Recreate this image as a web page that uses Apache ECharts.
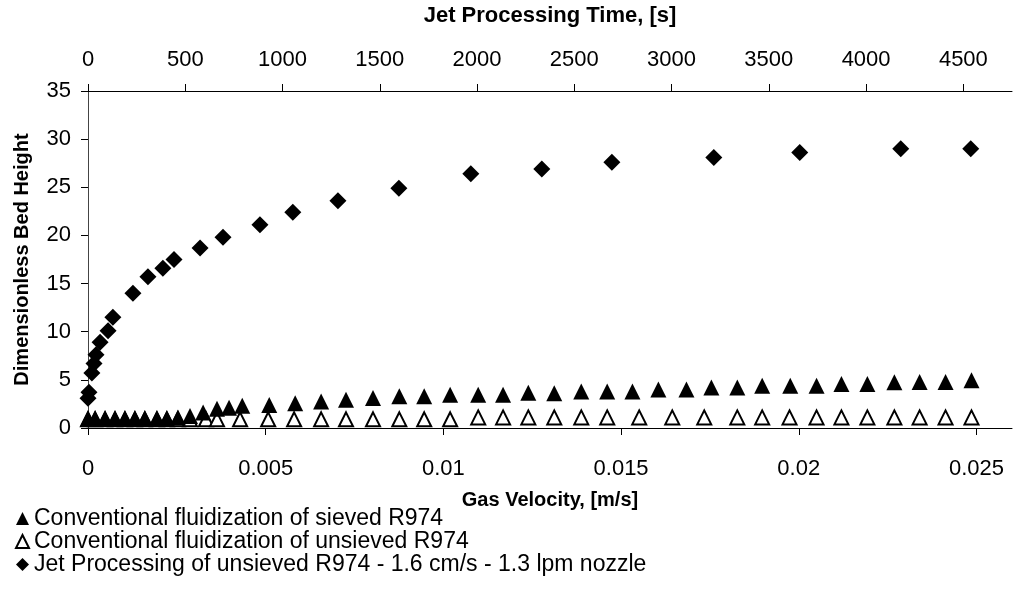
<!DOCTYPE html>
<html lang="en">
<head>
    <meta charset="UTF-8">
    <title>Bed Height</title>
    <script type="text/javascript" src="https://cdn.jsdelivr.net/npm/echarts@6/dist/echarts.min.js"></script>
    <style>
        body { margin: 0; background: #fff; }
    </style>
</head>
<body>
<div id="main" style="width: 1013px; height: 607px;"></div>

<script type="text/javascript">
    // conventional fluidization, sieved R974 (gas velocity m/s -> bed height)
    var sievedV = [0, 0.0002, 0.00048, 0.00076, 0.00104, 0.00132, 0.0016, 0.00194, 0.00222, 0.00253,
        0.00287, 0.00324, 0.00363, 0.00397, 0.00434, 0.0051, 0.00583, 0.00656, 0.00726, 0.00802,
        0.00876, 0.00946, 0.01019, 0.01098, 0.01168, 0.01239, 0.01312, 0.01388, 0.01461, 0.01532,
        0.01605, 0.01684, 0.01754, 0.01827, 0.01897, 0.01976, 0.0205, 0.0212, 0.02193, 0.02269,
        0.0234, 0.02413, 0.02486];
    var sievedH = [1.0, 1.0, 1.0, 1.0, 1.0, 1.0, 1.0, 1.0, 1.0, 1.1,
        1.25, 1.6, 2.0, 2.1, 2.3, 2.4, 2.58, 2.75, 2.94, 3.11,
        3.29, 3.29, 3.46, 3.46, 3.46, 3.66, 3.61, 3.8, 3.8, 3.8,
        4.0, 4.0, 4.2, 4.2, 4.39, 4.39, 4.39, 4.58, 4.58, 4.75,
        4.77, 4.77, 4.95];

    // conventional fluidization, unsieved R974
    var unsievedV = [0, 0.0002, 0.00048, 0.00076, 0.00104, 0.00132, 0.0016, 0.00194, 0.00222, 0.00253,
        0.00287, 0.00332, 0.00363, 0.00428, 0.00507, 0.0058, 0.00656, 0.00726, 0.00802, 0.00876,
        0.00946, 0.01019, 0.01098, 0.01168, 0.01239, 0.01312, 0.01388, 0.01461, 0.01551, 0.01644,
        0.01734, 0.01827, 0.01897, 0.01974, 0.0205, 0.0212, 0.02193, 0.02269, 0.0234, 0.02413,
        0.02486];
    var unsievedH = [0.9, 0.9, 0.9, 0.9, 0.9, 0.9, 0.9, 0.9, 0.9, 0.9,
        0.9, 0.9, 0.9, 0.9, 0.9, 0.9, 0.9, 0.9, 0.9, 0.9,
        0.9, 0.9, 1.1, 1.1, 1.1, 1.1, 1.1, 1.1, 1.1, 1.1,
        1.1, 1.1, 1.1, 1.1, 1.1, 1.1, 1.1, 1.1, 1.1, 1.1,
        1.1];

    // jet processing (time s -> bed height), top axis
    var jetT = [0, 5, 20, 31, 41, 62, 103, 128, 231, 308,
        385, 442, 576, 694, 884, 1053, 1285, 1598, 1968, 2333,
        2693, 3217, 3659, 4178, 4538];
    var jetH = [3.1, 3.7, 5.7, 6.7, 7.6, 8.9, 10.1, 11.5, 14.0, 15.7,
        16.6, 17.5, 18.7, 19.8, 21.1, 22.4, 23.6, 24.9, 26.4, 26.9,
        27.6, 28.1, 28.6, 29.0, 29.0];

    var seriesNames = [
        'Conventional fluidization of sieved R974',
        'Conventional fluidization of unsieved R974',
        'Jet Processing of unsieved R974 - 1.6 cm/s - 1.3 lpm nozzle'
    ];

    function pairs(xs, ys) {
        var out = [];
        for (var i = 0; i < xs.length; i++) {
            out.push([xs[i], ys[i]]);
        }
        return out;
    }

    var font = 'Liberation Sans';
    var axisLine = {lineStyle: {color: '#000', width: 1}};
    var axisTick = {length: 7, lineStyle: {color: '#000'}};

    var myChart = echarts.init(document.getElementById('main'));
    myChart.setOption({
        animation: false,
        backgroundColor: '#fff',
        textStyle: {fontFamily: font, color: '#000'},
        grid: {left: 88, top: 89, right: 1, bottom: 179},
        legend: {
            data: seriesNames,
            orient: 'vertical',
            left: 15,
            top: 507,
            padding: 0,
            itemGap: 0,
            itemWidth: 13,
            itemHeight: 13,
            textStyle: {fontFamily: font, fontSize: 23, color: '#000'}
        },
        xAxis: [{
            type: 'value',
            position: 'bottom',
            min: 0,
            max: 0.026,
            interval: 0.005,
            name: 'Gas Velocity, [m/s]',
            nameLocation: 'middle',
            nameGap: 62,
            nameTextStyle: {fontFamily: font, fontSize: 20, fontWeight: 'bold', color: '#000'},
            axisLine: axisLine,
            axisTick: axisTick,
            splitLine: {show: false},
            axisLabel: {
                fontFamily: font, fontSize: 22, color: '#000', margin: 30,
                showMaxLabel: false,
                formatter: function (v) { return String(parseFloat(v.toFixed(4))); }
            }
        }, {
            type: 'value',
            position: 'top',
            min: 0,
            max: 4750,
            interval: 500,
            name: 'Jet Processing Time, [s]',
            nameLocation: 'middle',
            nameGap: 64,
            nameTextStyle: {fontFamily: font, fontSize: 22, fontWeight: 'bold', color: '#000'},
            axisLine: axisLine,
            axisTick: axisTick,
            splitLine: {show: false},
            axisLabel: {
                fontFamily: font, fontSize: 22, color: '#000', margin: 20,
                showMaxLabel: false,
                formatter: function (v) { return String(v); }
            }
        }],
        yAxis: {
            type: 'value',
            min: 0,
            max: 35,
            interval: 5,
            name: 'Dimensionless Bed Height',
            nameLocation: 'middle',
            nameGap: 56,
            nameRotate: 90,
            nameTextStyle: {fontFamily: font, fontSize: 20, fontWeight: 'bold', color: '#000'},
            axisLine: {lineStyle: {color: '#444', width: 1}},
            axisTick: axisTick,
            splitLine: {show: false},
            axisLabel: {fontFamily: font, fontSize: 22, color: '#000', margin: 17}
        },
        series: [{
            name: seriesNames[0],
            type: 'scatter',
            xAxisIndex: 0,
            symbol: 'triangle',
            symbolSize: 16,
            z: 4,
            itemStyle: {color: '#000', opacity: 1},
            data: pairs(sievedV, sievedH)
        }, {
            name: seriesNames[1],
            type: 'scatter',
            xAxisIndex: 0,
            symbol: 'triangle',
            symbolSize: 14,
            z: 3,
            itemStyle: {color: '#fff', borderColor: '#000', borderWidth: 2, opacity: 1},
            data: pairs(unsievedV, unsievedH)
        }, {
            name: seriesNames[2],
            type: 'scatter',
            xAxisIndex: 1,
            symbol: 'diamond',
            symbolSize: 17,
            z: 5,
            itemStyle: {color: '#000', opacity: 1},
            data: pairs(jetT, jetH)
        }]
    });
</script>
</body>
</html>
